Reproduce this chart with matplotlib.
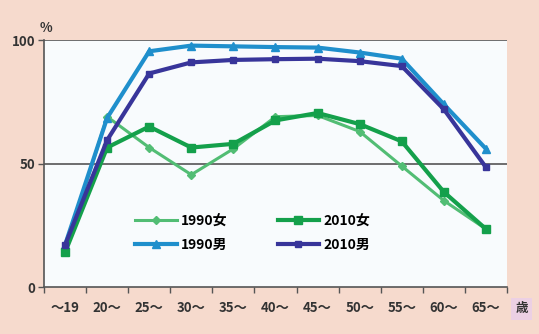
import numpy as np
import matplotlib.pyplot as plt

plt.rcParams['font.family'] = ['Noto Sans CJK JP', 'DejaVu Sans']

ages = ['～19', '20～', '25～', '30～', '35～', '40～', '45～', '50～', '55～', '60～', '65～']
f1990 = [15, 69, 56.5, 45.5, 56, 69, 69.5, 63, 49, 35, 23.5]
f2010 = [14, 56.5, 65, 56.5, 58, 67.5, 70.5, 66, 59, 38.5, 23.5]
m1990 = [17, 68.5, 95.5, 97.8, 97.5, 97.2, 97, 95, 92.5, 74, 56]
m2010 = [17, 59.5, 86.5, 91, 92, 92.3, 92.5, 91.5, 89.5, 72, 48.5]

x = np.arange(len(ages))

fig = plt.figure(figsize=(5.39, 3.34), dpi=100)
fig.patch.set_facecolor('#f6dacd')
ax = fig.add_axes([0.0816, 0.1407, 0.859, 0.739])
ax.set_facecolor('#f8fbfd')

ax.plot(x, f1990, color='#52bd74', lw=2.2, marker='D', ms=4.5, label='1990女', zorder=3)
ax.plot(x, m1990, color='#1f8fcc', lw=3, marker='^', ms=6, label='1990男', zorder=4)
ax.plot(x, f2010, color='#14a04b', lw=3, marker='s', ms=6, label='2010女', zorder=4)
ax.plot(x, m2010, color='#38359a', lw=3, marker='s', ms=4, label='2010男', zorder=5)

ax.set_xlim(-0.5, len(ages) - 0.5)
ax.set_ylim(0, 100)
ax.set_yticks([0, 50, 100])
ax.set_yticklabels(['0', '50', '100'], fontsize=9.5, fontweight='bold', color='#333333')
ax.set_xticks(x)
ax.set_xticklabels(ages, fontsize=9.5, fontweight='bold', color='#333333')
ax.set_xticks(np.arange(-0.5, len(ages)), minor=True)
ax.tick_params(axis='x', which='major', length=0, pad=10)
ax.tick_params(axis='x', which='minor', length=4, width=1, color='#555555', direction='out')
ax.tick_params(axis='y', length=4, width=1, color='#555555', pad=2)

for v in [50, 100]:
    ax.axhline(v, color='#555555', lw=1.2, zorder=1)
for s in ['top', 'right']:
    ax.spines[s].set_visible(False)
ax.spines['left'].set_color('#555555')
ax.spines['bottom'].set_color('#555555')
ax.spines['left'].set_linewidth(1.2)
ax.spines['bottom'].set_linewidth(1.2)

leg = ax.legend(ncol=2, loc='center left', bbox_to_anchor=(0.17, 0.22), frameon=False,
                prop={'size': 10, 'weight': 'bold'}, handlelength=3.0, columnspacing=3.6,
                labelspacing=0.7, handletextpad=0.3)

fig.text(0.074, 0.905, '%', fontsize=9.5, fontweight='bold', color='#333333')
fig.text(0.968, 0.075, '歳', fontsize=9, fontweight='bold', color='#333333', ha='center', va='center',
         bbox=dict(boxstyle='square,pad=0.35', fc='#ecd0e4', ec='none'))

fig.savefig('out.png', dpi=100, facecolor=fig.get_facecolor())
